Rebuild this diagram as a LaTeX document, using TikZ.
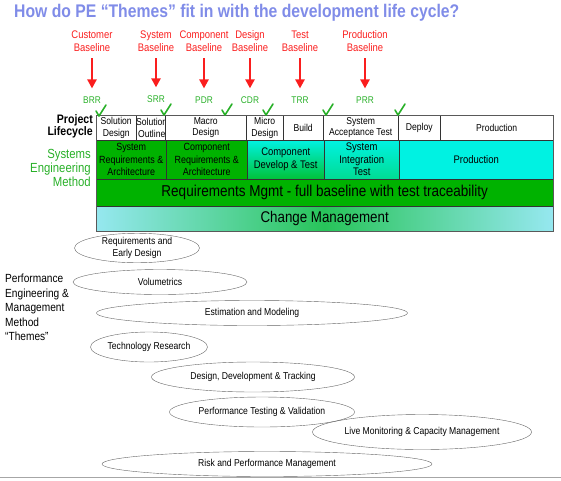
\documentclass[tikz,border=0pt]{standalone}
\usepackage{fontspec}
\setmainfont{Liberation Sans}[FakeStretch=0.86]
\usetikzlibrary{arrows.meta,shapes.geometric}

\definecolor{titleblue}{RGB}{128,140,232}
\definecolor{basered}{RGB}{250,30,30}
\definecolor{revgreen}{RGB}{40,176,40}
\definecolor{segreen}{RGB}{0,178,0}
\definecolor{secyan}{RGB}{0,242,226}
\definecolor{lightcyan}{RGB}{150,232,240}
\definecolor{midgreen}{RGB}{40,196,90}

\tikzset{
  baseline label/.style={text=basered,font=\fontsize{11}{13}\selectfont,align=center,inner sep=1pt},
  review/.style={text=revgreen,font=\fontsize{9.7}{10}\selectfont,inner sep=1pt},
  baseline arrow/.style={draw=basered,line width=2.6pt,-{Triangle[width=9pt,length=9pt]},shorten <=5pt,shorten >=7pt},
  lifecell/.style={draw=black!80,fill=white,anchor=north west,inner sep=0pt,align=center,font=\fontsize{10}{11.5}\selectfont},
  secell/.style={draw=black!80,anchor=north west,inner sep=0pt,align=center,font=\fontsize{10.4}{12.3}\selectfont},
  widerow/.style={draw=black!80,anchor=north west,inner sep=0pt,minimum width=457pt},
  theme/.style={ellipse,draw=black!60,inner sep=0pt,font=\fontsize{10}{11.5}\selectfont,align=center},
  pics/checkmark/.style={code={\draw[revgreen,line width=1.6pt,line cap=round,line join=round] (-3,-5) -- (0,0) -- (7,-11);}}
}

\begin{document}
\begin{tikzpicture}[x=1pt,y=-1pt]
  \path[use as bounding box] (0,0) rectangle (561,480);

  % title
  \node[anchor=west,inner sep=0pt,text=titleblue,font=\fontsize{18.3}{20}\bfseries] (title) at (14,13)
    {How do PE “Themes” fit in with the development life cycle?};

  % baselines and reviews
  \node[baseline label] (cust) at (92,41.5) {Customer\\Baseline};
  \node[baseline label] (sysb) at (156,41.5) {System\\Baseline};
  \node[baseline label] (compb) at (204,41.5) {Component\\Baseline};
  \node[baseline label] (desb) at (250,41.5) {Design\\Baseline};
  \node[baseline label] (testb) at (300,41.5) {Test\\Baseline};
  \node[baseline label] (prodb) at (365,41.5) {Production\\Baseline};
  \node[review] (brr) at (92,100) {BRR};
  \node[review] (srr) at (156,99) {SRR};
  \node[review] (pdr) at (204,100) {PDR};
  \node[review] (cdr) at (250,100) {CDR};
  \node[review] (trr) at (300,100) {TRR};
  \node[review] (prr) at (365,100) {PRR};
  \draw[baseline arrow] (cust) -- (brr);
  \draw[baseline arrow] (sysb) -- (srr);
  \draw[baseline arrow] (compb) -- (pdr);
  \draw[baseline arrow] (desb) -- (cdr);
  \draw[baseline arrow] (testb) -- (trr);
  \draw[baseline arrow] (prodb) -- (prr);

  % row labels
  \node[anchor=east,align=right,inner sep=0pt,font=\fontsize{12.3}{12.5}\bfseries] (lifelabel) at (93,126.5) {Project\\Lifecycle};
  \node[anchor=east,align=right,inner sep=0pt,text=revgreen,font=\fontsize{13.2}{14}\selectfont] (selabel) at (91,168) {Systems\\Engineering\\Method};

  % project lifecycle row
  \node[lifecell,minimum width=40pt,minimum height=25pt] (soldes) at (96,115) {Solution\\Design};
  \node[lifecell,minimum width=29pt,minimum height=25pt] (solout) at (136,115) {Solution\\Outline};
  \node[lifecell,minimum width=81pt,minimum height=25pt] (macro) at (165,115) {Macro\\Design};
  \node[lifecell,minimum width=37pt,minimum height=25pt] (micro) at (246,115) {Micro\\Design};
  \node[lifecell,minimum width=40pt,minimum height=25pt] (build) at (283,115) {Build};
  \node[lifecell,minimum width=75pt,minimum height=25pt] (sat) at (323,115) {System\\Acceptance Test};
  \node[lifecell,minimum width=42pt,minimum height=25pt] (deploy) at (398,115) {Deploy};
  \node[lifecell,minimum width=113pt,minimum height=25pt] (prodlc) at (440,115) {Production};

  % systems engineering row
  \node[secell,fill=segreen,minimum width=70pt,minimum height=39pt] (sysreq) at (96,140) {System\\Requirements \&\\Architecture};
  \node[secell,fill=segreen,minimum width=81pt,minimum height=39pt] (compreq) at (166,140) {Component\\Requirements \&\\Architecture};
  \node[secell,top color=secyan,bottom color=segreen!75!secyan,minimum width=77pt,minimum height=39pt,font=\fontsize{11}{13}\selectfont] (compdev) at (247,140) {Component\\Develop \& Test};
  \node[secell,top color=secyan,bottom color=secyan!65!segreen,minimum width=75pt,minimum height=39pt,font=\fontsize{11}{12.5}\selectfont] (sit) at (324,140) {System\\Integration\\Test};
  \node[secell,fill=secyan,minimum width=154pt,minimum height=39pt,font=\fontsize{11}{12}\selectfont] (prodse) at (399,140) {Production};

  % full width rows
  \node[widerow,fill=segreen,minimum height=27pt,font=\fontsize{15.7}{17}\selectfont] (reqmgmt) at (96,179)
    {Requirements Mgmt - full baseline with test traceability};
  \node[widerow,left color=lightcyan,right color=lightcyan,middle color=midgreen,minimum height=25pt,font=\fontsize{15.5}{16}\selectfont] (change) at (96,206)
    {Change Management};
  \draw[black!65,line width=1pt] (soldes.north west) rectangle (change.south east);

  % reviews passed
  \pic at (99,116) {checkmark};
  \pic at (164,115) {checkmark};
  \pic at (225,115) {checkmark};
  \pic at (266,115) {checkmark};
  \pic at (326,115) {checkmark};
  \pic at (398,115) {checkmark};

  % PE themes
  \node[anchor=north west,align=left,inner sep=0pt,font=\fontsize{11.8}{14.5}\selectfont] (pelabel) at (5,274)
    {Performance\\Engineering \&\\Management\\Method\\“Themes”};
  \node[theme,minimum width=125pt,minimum height=27pt] (reqdes) at (137,248) {Requirements and\\Early Design};
  \node[theme,minimum width=174pt,minimum height=25pt] (volum) at (160,282) {Volumetrics};
  \node[theme,minimum width=311pt,minimum height=25pt] (estim) at (252,313) {Estimation and Modeling};
  \node[theme,minimum width=102pt,minimum height=30pt] (techres) at (149,347) {Technology Research};
  \node[theme,minimum width=203pt,minimum height=30pt] (desdev) at (253,377) {Design, Development \& Tracking};
  \node[theme,minimum width=185pt,minimum height=30pt] (perftest) at (262,412) {Performance Testing \& Validation};
  \node[theme,minimum width=185pt,minimum height=35pt] (livemon) at (422,432) {Live Monitoring \& Capacity Management};
  \node[theme,minimum width=330pt,minimum height=25pt] (riskmgmt) at (267,464) {Risk and Performance Management};

  \draw[black!35] (0,477) -- (561,477);
\end{tikzpicture}
\end{document}
